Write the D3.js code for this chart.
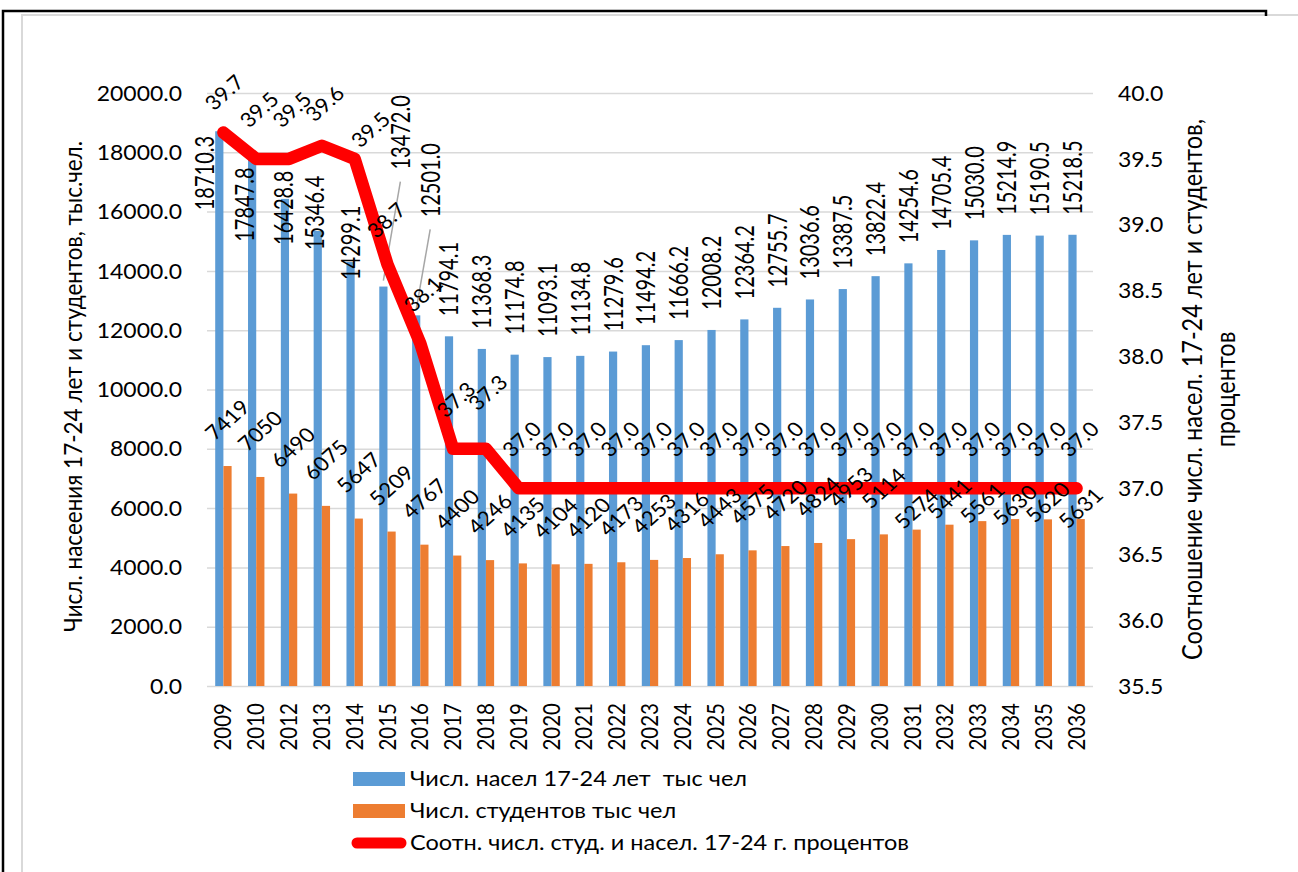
<!DOCTYPE html>
<meta charset="utf-8">
<script src="https://cdn.jsdelivr.net/npm/d3@7"></script>
<style>
    body { margin: 0; background: #fff; }
    text { font-family: Lato, 'Noto Sans', sans-serif; fill: #000; white-space: pre; }
</style>
<body>
<script>
    // DATA
    var years = ['2009', '2010', '2012', '2013', '2014', '2015', '2016', '2017', '2018', '2019',
        '2020', '2021', '2022', '2023', '2024', '2025', '2026', '2027', '2028', '2029',
        '2030', '2031', '2032', '2033', '2034', '2035', '2036'];
    var population = [18710.3, 17847.8, 16428.8, 15346.4, 14299.1, 13472.0, 12501.0, 11794.1, 11368.3, 11174.8,
        11093.1, 11134.8, 11279.6, 11494.2, 11666.2, 12008.2, 12364.2, 12755.7, 13036.6, 13387.5,
        13822.4, 14254.6, 14705.4, 15030.0, 15214.9, 15190.5, 15218.5];
    var students = [7419, 7050, 6490, 6075, 5647, 5209, 4767, 4400, 4246, 4135,
        4104, 4120, 4173, 4253, 4316, 4443, 4575, 4720, 4824, 4953,
        5114, 5274, 5441, 5561, 5630, 5620, 5631];
    var ratio = [39.7, 39.5, 39.5, 39.6, 39.5, 38.7, 38.1, 37.3, 37.3, 37.0,
        37.0, 37.0, 37.0, 37.0, 37.0, 37.0, 37.0, 37.0, 37.0, 37.0,
        37.0, 37.0, 37.0, 37.0, 37.0, 37.0, 37.0];
    var leftTicks = [0, 2000, 4000, 6000, 8000, 10000, 12000, 14000, 16000, 18000, 20000];
    var rightTicks = [35.5, 36.0, 36.5, 37.0, 37.5, 38.0, 38.5, 39.0, 39.5, 40.0];
    var seriesNames = ['Числ. насел 17-24 лет  тыс чел', 'Числ. студентов тыс чел',
        'Соотн. числ. студ. и насел. 17-24 г. процентов'];
    var leftTitle = 'Числ. насеения 17-24 лет и студентов, тыс.чел.';
    var rightTitle = ['Соотношение числ. насел. 17-24 лет и студентов,', 'процентов'];

    var width = 1298, height = 872,
        pLeft = 207, pRight = 1093, pTop = 93, pBottom = 686,
        stretch = 1.12, tallStretch = 1.35, barW = 8.2;

    // MANUALLY MOVED LABELS (dx, dy)
    var popNudge = {'2009': [-15, 99], '2010': [-8, 105], '2012': [-1, 66], '2013': [-3, 39],
        '2014': [0, 38], '2015': [17, -97], '2016': [14, -78]};
    var studLift = {'2029': 52, '2031': 21, '2032': 26, '2033': 18, '2034': 14, '2035': 17, '2036': 11};
    var ratioNudge = {'2009': [-2, 9], '2013': [0, 7], '2014': [13, 20], '2015': [-4, 5], '2018': [-1, -7]};

    var svg = d3.select('body').append('svg')
            .attr('width', width)
            .attr('height', height);

    // FRAME
    svg.append('path')
            .attr('d', 'M22,' + height + 'V15H' + width)
            .attr('fill', 'none').attr('stroke', '#d9d9d9').attr('stroke-width', 2);
    svg.append('path')
            .attr('d', 'M3,' + height + 'V11H1266V16')
            .attr('fill', 'none').attr('stroke', '#000').attr('stroke-width', 2.5);

    var x = d3.scaleBand().domain(years).range([pLeft, pRight]);
    var yL = d3.scaleLinear().domain([0, 20000]).range([pBottom, pTop]);
    var yR = d3.scaleLinear().domain([35.5, 40]).range([pBottom, pTop]);
    function cx(i) { return x(years[i]) + x.bandwidth() / 2; }

    // GRIDLINES
    svg.append('g')
            .attr('transform', 'translate(' + pLeft + ',0)')
            .call(d3.axisLeft(yL).tickValues(leftTicks).tickSize(-(pRight - pLeft)).tickFormat(''))
            .call(function (g) { g.select('.domain').remove(); })
            .selectAll('line').attr('stroke', '#d9d9d9').attr('stroke-width', 1.5);

    // AXES
    var axL = svg.append('g')
            .attr('transform', 'translate(' + pLeft + ',0)')
            .call(d3.axisLeft(yL).tickValues(leftTicks).tickSize(0).tickFormat(d3.format('.1f')));
    var axR = svg.append('g')
            .attr('transform', 'translate(' + pRight + ',0)')
            .call(d3.axisRight(yR).tickValues(rightTicks).tickSize(0).tickFormat(d3.format('.1f')));
    var axB = svg.append('g')
            .attr('transform', 'translate(0,' + pBottom + ')')
            .call(d3.axisBottom(x).tickSize(0));
    [axL, axR, axB].forEach(function (a) {
        a.select('.domain').remove();
        a.selectAll('text').attr('font-family', null).attr('font-size', 20.5).attr('fill', '#000');
    });
    axL.selectAll('text').attr('x', null).attr('dy', '0.35em')
            .attr('text-anchor', 'end')
            .attr('transform', 'translate(-25,0) scale(' + stretch + ',1)');
    axR.selectAll('text').attr('x', null).attr('dy', '0.35em')
            .attr('text-anchor', 'start')
            .attr('transform', 'translate(25,0) scale(' + stretch + ',1)');
    axB.selectAll('text').attr('y', 0).attr('dy', '0.35em')
            .attr('text-anchor', 'end')
            .attr('transform', 'translate(0,17) scale(' + stretch + ',1) rotate(-90)');

    // BARS
    svg.append('g').selectAll('rect').data(population).join('rect')
            .attr('x', function (d, i) { return cx(i) - barW; })
            .attr('y', function (d) { return yL(d); })
            .attr('width', barW)
            .attr('height', function (d) { return pBottom - yL(d); })
            .attr('fill', '#5b9bd5');
    svg.append('g').selectAll('rect').data(students).join('rect')
            .attr('x', function (d, i) { return cx(i); })
            .attr('y', function (d) { return yL(d); })
            .attr('width', barW)
            .attr('height', function (d) { return pBottom - yL(d); })
            .attr('fill', '#ed7d31');

    // POPULATION LABELS + LEADER LINES
    function popPos(d, i) {
        var n = popNudge[years[i]] || [0, 0];
        return [cx(i) - barW / 2 + n[0], yL(d) - 20 + n[1]];
    }
    ['2015', '2016'].forEach(function (yr) {
        var i = years.indexOf(yr), p = popPos(population[i], i);
        svg.append('line')
                .attr('x1', p[0]).attr('y1', p[1] + 12)
                .attr('x2', cx(i) - barW / 2).attr('y2', yL(population[i]) - 6)
                .attr('stroke', '#a6a6a6').attr('stroke-width', 1.5);
    });

    // RATIO LINE
    svg.append('path')
            .datum(ratio)
            .attr('d', d3.line().x(function (d, i) { return cx(i); }).y(function (d) { return yR(d); }))
            .attr('fill', 'none')
            .attr('stroke', '#ff0000')
            .attr('stroke-width', 12.5)
            .attr('stroke-linejoin', 'round')
            .attr('stroke-linecap', 'round');

    svg.append('g').selectAll('text').data(population).join('text')
            .attr('transform', function (d, i) {
                var p = popPos(d, i);
                return 'translate(' + p[0] + ',' + p[1] + ') scale(' + tallStretch + ',1) rotate(-90)';
            })
            .attr('dy', '0.35em')
            .attr('font-size', 20)
            .text(function (d) { return d3.format('.1f')(d); });

    // STUDENT LABELS
    svg.append('g').selectAll('text').data(students).join('text')
            .attr('transform', function (d, i) {
                var lift = studLift[years[i]] || 46;
                return 'translate(' + (cx(i) + barW / 2) + ',' + (yL(d) - lift) + ') scale(' + stretch + ',1) rotate(-45)';
            })
            .attr('dy', '0.35em')
            .attr('text-anchor', 'middle')
            .attr('font-size', 20)
            .text(function (d) { return d; });

    // RATIO LABELS
    svg.append('g').selectAll('text').data(ratio).join('text')
            .attr('transform', function (d, i) {
                var n = ratioNudge[years[i]] || [0, 0];
                return 'translate(' + (cx(i) + 3 + n[0]) + ',' + (yR(d) - 49 + n[1]) + ') scale(' + stretch + ',1) rotate(-45)';
            })
            .attr('dy', '0.35em')
            .attr('text-anchor', 'middle')
            .attr('font-size', 20)
            .text(function (d) { return d3.format('.1f')(d); });

    // AXIS TITLES
    svg.append('text')
            .attr('transform', 'translate(73,' + ((pTop + pBottom) / 2 - 3) + ') scale(' + stretch + ',1) rotate(-90)')
            .attr('dy', '0.35em')
            .attr('text-anchor', 'middle')
            .attr('font-size', 22.5)
            .text(leftTitle);
    rightTitle.forEach(function (t, k) {
        svg.append('text')
                .attr('transform', 'translate(' + (1193 + k * 33) + ',' + (pTop + pBottom) / 2 + ') scale(' + stretch + ',1) rotate(-90)')
                .attr('dy', '0.35em')
                .attr('text-anchor', 'middle')
                .attr('font-size', 23.5)
                .text(t);
    });

    // LEGEND
    var legend = svg.append('g').selectAll('g').data(seriesNames).join('g')
            .attr('transform', function (d, i) { return 'translate(353,' + (779 + i * 32) + ')'; });
    legend.filter(function (d, i) { return i < 2; }).append('rect')
            .attr('y', -7).attr('width', 52).attr('height', 14)
            .attr('fill', function (d, i) { return i === 0 ? '#5b9bd5' : '#ed7d31'; });
    legend.filter(function (d, i) { return i === 2; }).append('line')
            .attr('x1', 4).attr('x2', 48)
            .attr('stroke', '#ff0000').attr('stroke-width', 11).attr('stroke-linecap', 'round');
    legend.append('text')
            .attr('transform', 'translate(57,0) scale(' + stretch + ',1)')
            .attr('dy', '0.35em')
            .attr('font-size', 21)
            .text(function (d) { return d; });
</script>
</body>
